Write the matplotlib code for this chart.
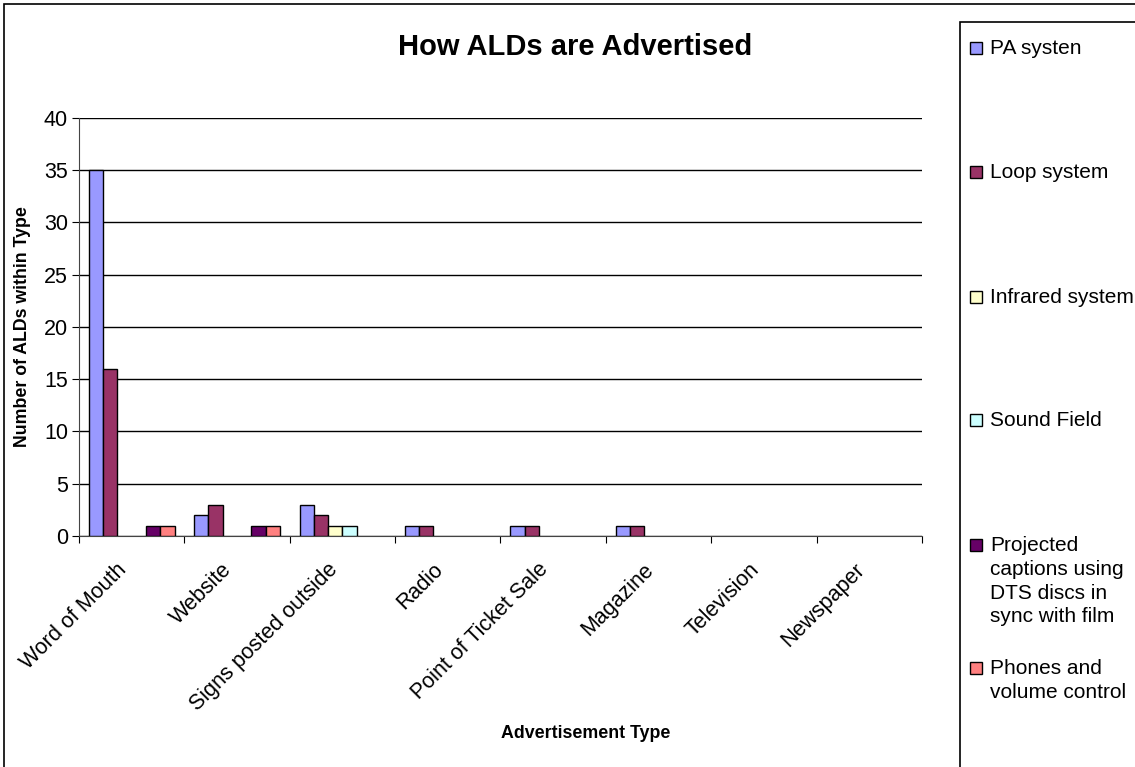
import matplotlib.pyplot as plt
import numpy as np
from matplotlib.patches import Rectangle
from matplotlib.transforms import ScaledTranslation

plt.rcParams['font.family'] = ['Liberation Sans', 'DejaVu Sans']

categories = ["Word of Mouth", "Website", "Signs posted outside", "Radio",
              "Point of Ticket Sale", "Magazine", "Television", "Newspaper"]
series = ["PA systen", "Loop system", "Infrared system", "Sound Field",
          "Projected\ncaptions using\nDTS discs in\nsync with film",
          "Phones and\nvolume control"]
pa_system = [35, 2, 3, 1, 1, 1, 0, 0]
loop_system = [16, 3, 2, 1, 1, 1, 0, 0]
infrared = [0, 0, 1, 0, 0, 0, 0, 0]
sound_field = [0, 0, 1, 0, 0, 0, 0, 0]
projected = [1, 1, 0, 0, 0, 0, 0, 0]
phones = [1, 1, 0, 0, 0, 0, 0, 0]
values = [pa_system, loop_system, infrared, sound_field, projected, phones]
colors = ["#9999FF", "#993366", "#FFFFCC", "#CCFFFF", "#660066", "#FF8080"]

fig = plt.figure(figsize=(11.35, 7.67), dpi=100)
ax = fig.add_axes([0.0696, 0.3012, 0.7427, 0.545])

x = np.arange(len(categories))
w = 0.1357
for i, (vals, c) in enumerate(zip(values, colors)):
    edges = ['black' if v > 0 else 'none' for v in vals]
    ax.bar(x + (i - 2.5) * w, vals, w, color=c, edgecolor=edges, linewidth=1, zorder=3)

ax.set_xlim(-0.5, len(categories) - 0.5)
ax.set_ylim(0, 40)
ax.set_yticks(range(0, 41, 5))
ax.yaxis.grid(True, color='black', linewidth=1)
ax.set_axisbelow(True)
for s in ['top', 'right']:
    ax.spines[s].set_visible(False)
ax.spines['left'].set_color('#444444')
ax.spines['bottom'].set_color('#444444')

ax.set_xticks(np.arange(len(categories) + 1) - 0.5, minor=False)
ax.set_xticklabels([])
ax.set_xticks(x, minor=True)
ax.set_xticklabels(categories, minor=True, rotation=45, ha='right', va='center',
                   rotation_mode='anchor', fontsize=15.5)
ax.tick_params(axis='x', which='minor', length=0, pad=12)
ax.tick_params(axis='x', which='major', length=5, direction='out')
ax.tick_params(axis='y', labelsize=15.5, length=5, direction='out', pad=3)
shift = ScaledTranslation(-8 / 100, -14 / 100, fig.dpi_scale_trans)
for lbl in ax.get_xticklabels(minor=True):
    lbl.set_transform(lbl.get_transform() + shift)

fig.text(23 / 1135, 0.574, "Number of ALDs within Type", fontsize=12.8,
         fontweight='bold', rotation=90, ha='center', va='center')
fig.text(0.516, 0.044, "Advertisement Type", fontsize=12.8, fontweight='bold',
         ha='center', va='center')
fig.text(0.507, 0.939, "How ALDs are Advertised", fontsize=21, fontweight='bold',
         ha='center', va='center')

# outer chart frame and legend box
fig.patches.append(Rectangle((4 / 1135, -0.01), 1.2, 1 - 4 / 767 + 0.01,
                             transform=fig.transFigure, fill=False,
                             edgecolor='black', linewidth=1.2))
fig.patches.append(Rectangle((960 / 1135, -0.01), 0.3, 1 - 22 / 767 + 0.01,
                             transform=fig.transFigure, fill=False,
                             edgecolor='black', linewidth=1.2))

legend_y = [48, 172, 297, 420, 545, 668]
for lab, c, yy in zip(series, colors, legend_y):
    fy = 1 - yy / 767
    fig.patches.append(Rectangle((970 / 1135, fy - 6 / 767), 12 / 1135, 12 / 767,
                                 transform=fig.transFigure, facecolor=c,
                                 edgecolor='black', linewidth=1))
    fig.text(990 / 1135, fy + 9 / 767, lab, fontsize=15, ha='left', va='top',
             linespacing=1.32)

fig.savefig("out.png", dpi=100)
